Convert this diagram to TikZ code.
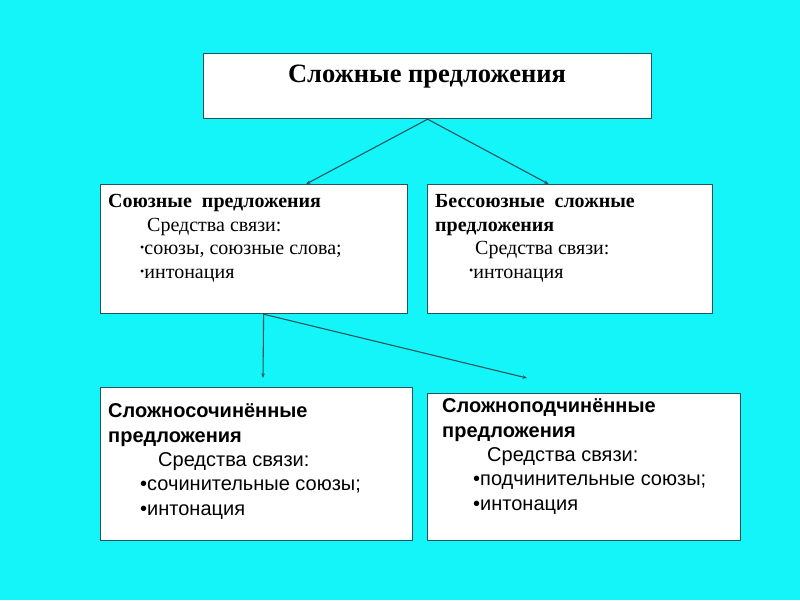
\documentclass[tikz,border=0pt]{standalone}
\usepackage{fontspec}
\setmainfont{Liberation Serif}
\setsansfont{Liberation Sans}
\usetikzlibrary{arrows.meta}

\definecolor{bgcyan}{RGB}{20,245,250}
\definecolor{edgecol}{RGB}{35,85,95}

\tikzset{
  box/.style={draw=edgecol, fill=white, line width=1.2pt, anchor=north west, inner sep=0pt},
  txt/.style={anchor=north west, align=left, inner sep=0pt, font=\fontsize{20}{23.7}\selectfont},
  stxt/.style={txt, font=\sffamily\fontsize{20}{24.4}\selectfont},
  link/.style={draw=edgecol, line width=1.1pt, -{Stealth[length=4.5pt,width=3.5pt]}}
}
\newcommand{\dotb}{\raisebox{3.5pt}{\fontsize{12}{12}\selectfont•}}

\begin{document}
\begin{tikzpicture}[x=1pt, y=-1pt]
    % Background
    \fill[bgcyan] (0,0) rectangle (800,600);
    \useasboundingbox (0,0) rectangle (800,600);

    % Boxes
    \node[box, minimum width=448pt, minimum height=65pt] (slozh) at (203,53) {};
    \node[box, minimum width=307pt, minimum height=129pt] (soyuz) at (100,184) {};
    \node[box, minimum width=285pt, minimum height=129pt] (bessoyuz) at (427,184) {};
    \node[box, minimum width=312pt, minimum height=153pt] (sochin) at (100,387) {};
    \node[box, minimum width=313pt, minimum height=147pt] (podchin) at (427,393) {};

    % Texts
    \node[anchor=base, inner sep=0pt, font=\bfseries\fontsize{26.5}{30}\selectfont] (slozhtxt) at (427,82) {Сложные предложения};
    \node[txt] (soyuztxt) at (108,194) {\textbf{Союзные\ \ предложения}\\
        \hspace*{39pt}Средства связи:\\
        \hspace*{32pt}\dotb союзы, союзные слова;\\
        \hspace*{32pt}\dotb интонация};
    \node[txt] (bessoyuztxt) at (435,194) {\textbf{Бессоюзные\ \ сложные}\\
        \textbf{предложения}\\
        \hspace*{40pt}Средства связи:\\
        \hspace*{34pt}\dotb интонация};
    \node[stxt] (sochintxt) at (108,403.5) {\textbf{Сложносочинённые}\\
        \textbf{предложения}\\
        \hspace*{50pt}Средства связи:\\
        \hspace*{32pt}•сочинительные союзы;\\
        \hspace*{32pt}•интонация};
    \node[stxt] (podchintxt) at (442,398.5) {\textbf{Сложноподчинённые}\\
        \textbf{предложения}\\
        \hspace*{45pt}Средства связи:\\
        \hspace*{31pt}•подчинительные союзы;\\
        \hspace*{31pt}•интонация};

    % Connectors
    \coordinate (fork) at ([xshift=9.5pt]soyuz.south);
    \coordinate (downend) at (263,378);
    \coordinate (rightend) at (527,378);
    \draw[link] (slozh.south) -- ([xshift=52pt]soyuz.north);
    \draw[link] (slozh.south) -- ([xshift=-21.5pt]bessoyuz.north);
    \draw[link] (fork) -- (downend);
    \draw[link] (fork) -- (rightend);
\end{tikzpicture}
\end{document}
